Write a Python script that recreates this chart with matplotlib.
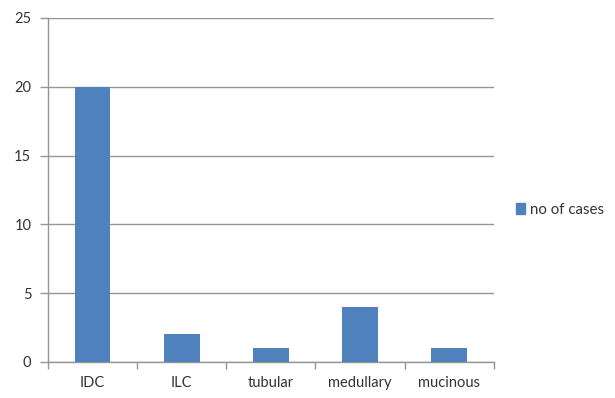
import matplotlib
matplotlib.use("Agg")
import matplotlib.pyplot as plt
from matplotlib.patches import Patch
import numpy as np

categories = ["IDC", "ILC", "tubular", "medullary", "mucinous"]
cases = [20, 2, 1, 4, 1]
y_ticks = [0, 5, 10, 15, 20, 25]
series_name = "no of cases"

bar_color = "#4F81BD"
grid_color = "#959595"
text_color = "#333333"

plt.rcParams["font.family"] = ["Lato", "DejaVu Sans"]

fig = plt.figure(figsize=(6.15, 3.98), dpi=100)
ax = fig.add_axes([0.078, 0.0905, 0.725, 0.8645])

x = np.arange(len(categories))
ax.bar(x, cases, width=0.4, color=bar_color, zorder=3)

ax.set_xlim(-0.5, len(categories) - 0.5)
ax.set_ylim(0, 25)
ax.set_yticks(y_ticks)
ax.yaxis.grid(True, color=grid_color, linewidth=1.0, zorder=0)

ax.set_xticks(x)
ax.set_xticklabels(categories)
ax.set_xticks(np.arange(len(categories) + 1) - 0.5, minor=True)
ax.tick_params(axis="x", which="major", length=0, pad=10, labelsize=10.5, labelcolor=text_color)
ax.tick_params(axis="x", which="minor", length=5, color=grid_color, width=1.0)
ax.tick_params(axis="y", length=6, color=grid_color, width=1.0, pad=6, labelsize=10.5, labelcolor=text_color)

for side in ("top", "right"):
    ax.spines[side].set_visible(False)
for side in ("left", "bottom"):
    ax.spines[side].set_color(grid_color)
    ax.spines[side].set_linewidth(1.0)

handle = Patch(facecolor=bar_color, edgecolor=bar_color)
fig.legend([handle], [series_name], loc="center left", bbox_to_anchor=(0.827, 0.473),
           frameon=False, fontsize=10.8, handlelength=0.6, handleheight=0.7,
           handletextpad=0.35, borderpad=0, labelcolor=text_color)

fig.savefig("out.png", dpi=100)
